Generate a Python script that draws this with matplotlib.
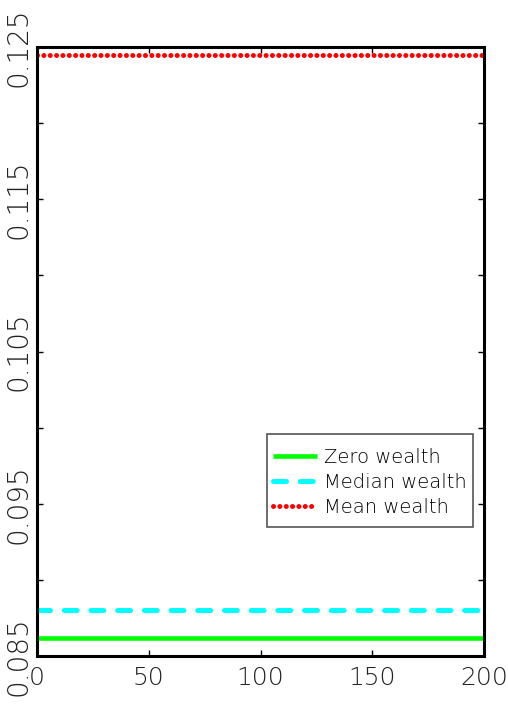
import matplotlib
matplotlib.use("Agg")
import matplotlib.pyplot as plt
from matplotlib.patches import Rectangle
from matplotlib.ticker import MultipleLocator, FixedLocator

# Poverty rate by wealth threshold over the simulated periods
periods = [0, 50, 100, 150, 200]
zero_wealth = [0.0862, 0.0862, 0.0862, 0.0862, 0.0862]
median_wealth = [0.0880, 0.0880, 0.0880, 0.0880, 0.0880]
mean_wealth = [0.1245, 0.1245, 0.1245, 0.1245, 0.1245]

y_labels = [0.085, 0.095, 0.105, 0.115, 0.125]

plt.rcParams['font.family'] = ['DejaVu Sans']
plt.rcParams['font.weight'] = 'light'

fig = plt.figure(figsize=(5.08, 7.04), dpi=100)
ax = fig.add_axes([0.0728, 0.0682, 0.88, 0.865])

ax.plot(periods, zero_wealth, color='#00ff00', lw=3.3, solid_capstyle='butt',
        label='Zero wealth')
ax.plot(periods, median_wealth, color='#00ffff', lw=3.6, dash_capstyle='round',
        dashes=(2.6, 2.74), label='Median wealth')
ax.plot(periods, mean_wealth, color='#ff0000', lw=3.6, dash_capstyle='round',
        dashes=(0.01, 1.26), label='Mean wealth')

ax.set_xlim(0, 200)
ax.set_ylim(0.085, 0.125)

ax.xaxis.set_major_locator(MultipleLocator(50))
ax.yaxis.set_major_locator(FixedLocator(y_labels))
ax.yaxis.set_minor_locator(MultipleLocator(0.005))
ax.set_yticklabels([f"{v:.3f}" for v in y_labels], rotation=90, va='center')

ax.tick_params(axis='both', which='both', direction='in', length=4, width=1,
               top=True, right=True, colors='black')
ax.tick_params(axis='x', labelsize=18, pad=7)
ax.tick_params(axis='y', labelsize=20, pad=3)
for lbl in ax.get_xticklabels() + ax.get_yticklabels():
    lbl.set_color('#222222')
for s in ax.spines.values():
    s.set_linewidth(2.2)

# legend box drawn separately so it can be taller than the entries need
ax.add_patch(Rectangle((0.5145, 0.2118), 0.461, 0.1527, transform=ax.transAxes,
                       facecolor='white', edgecolor='#555555', lw=1.2, zorder=4))
leg = ax.legend(loc='upper left', bbox_to_anchor=(0.528, 0.342), fontsize=14,
                frameon=False, handlelength=2.27, handletextpad=0.36,
                labelspacing=0.31, borderpad=0, borderaxespad=0)
leg.set_zorder(5)

fig.savefig("out.png", dpi=100)
